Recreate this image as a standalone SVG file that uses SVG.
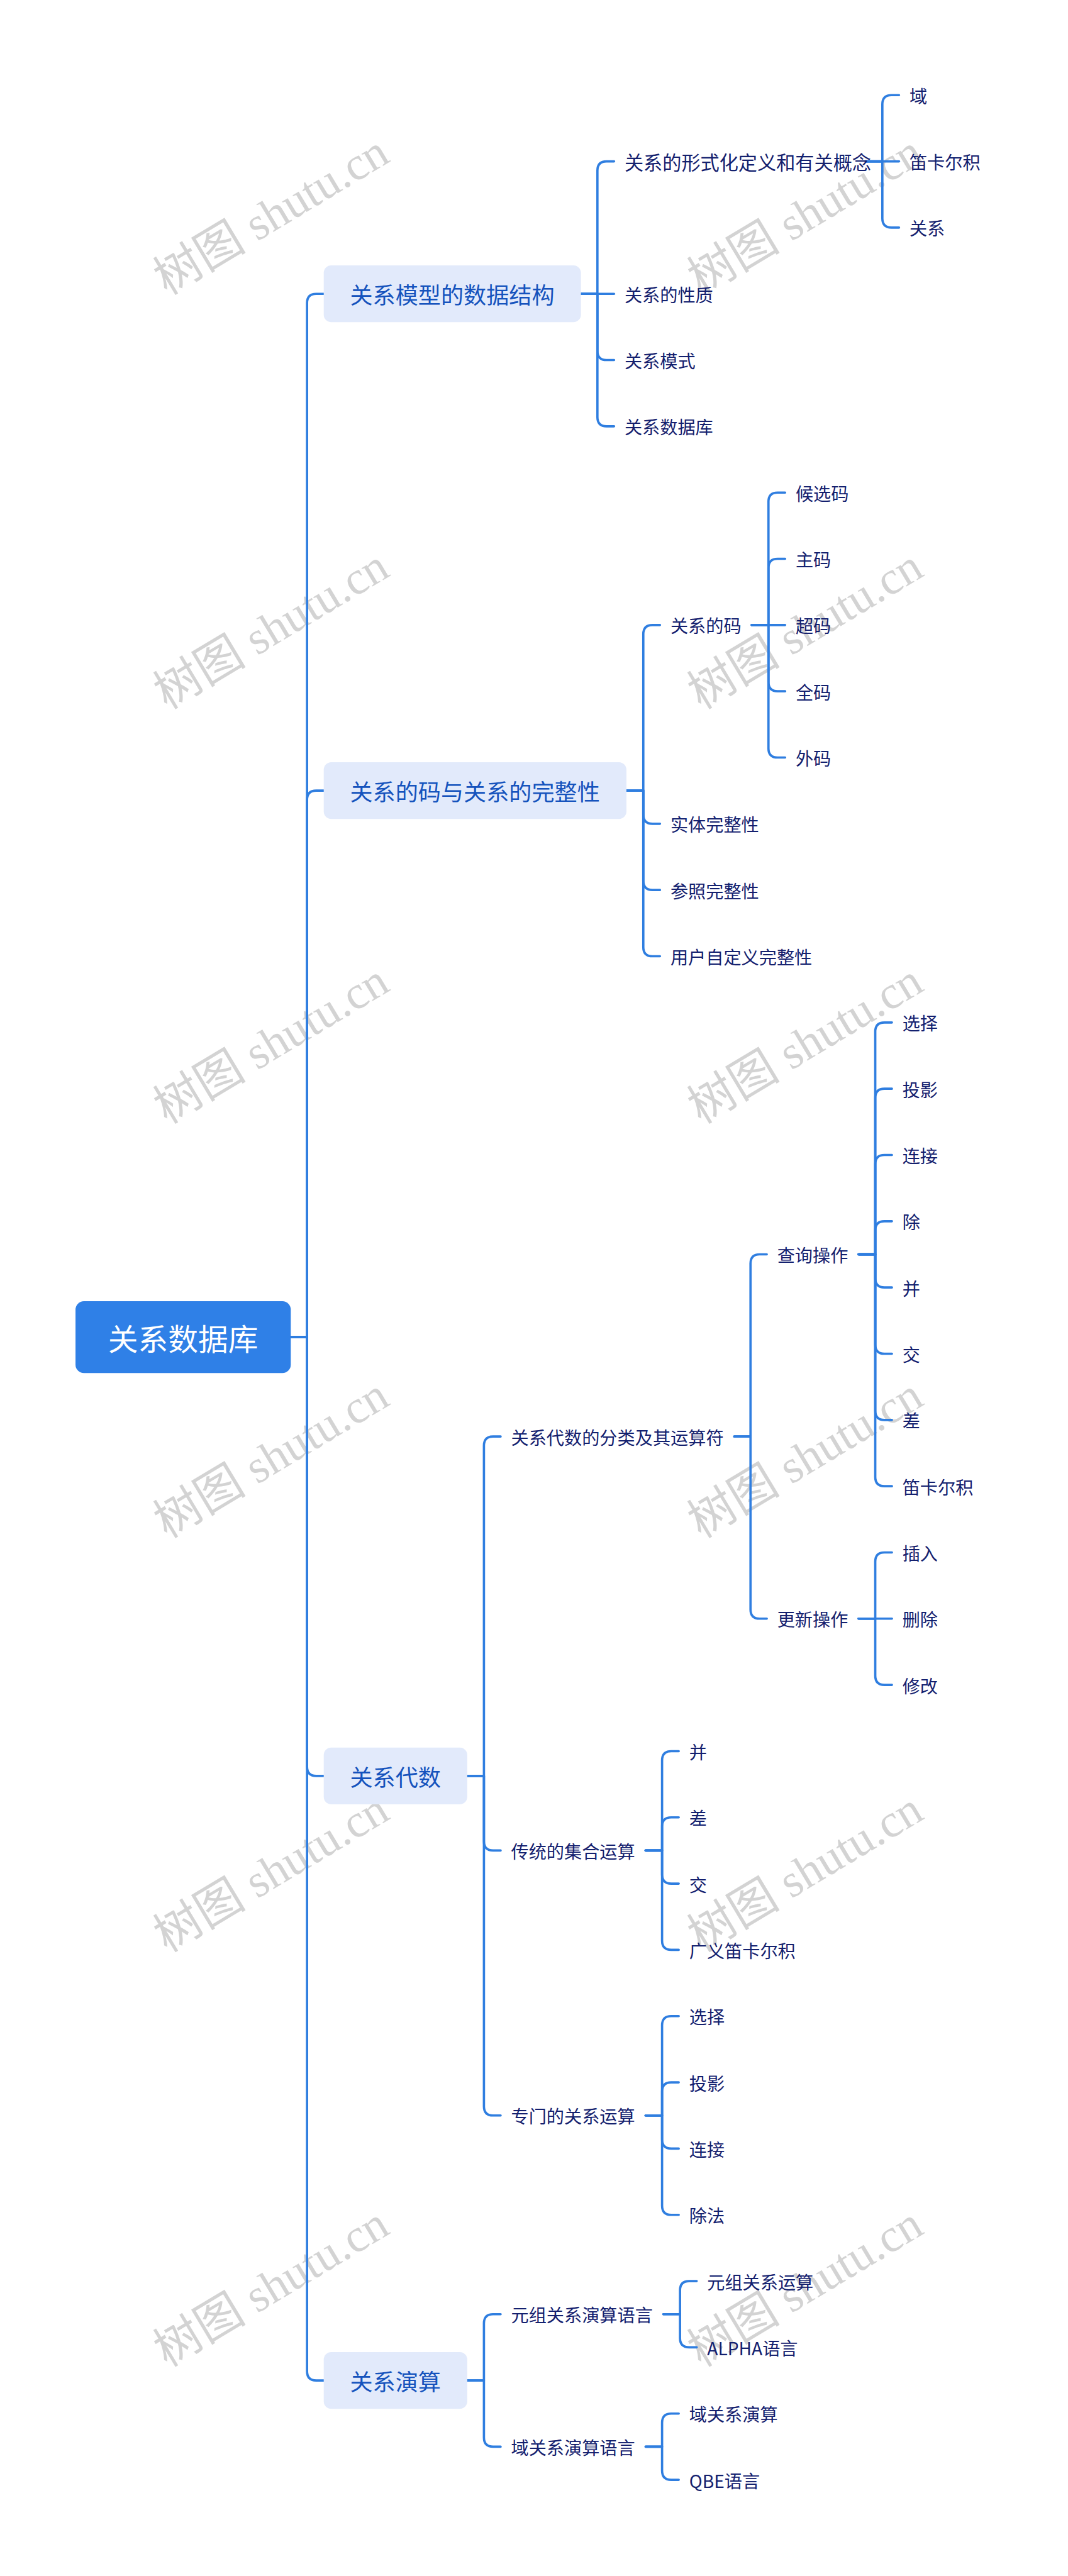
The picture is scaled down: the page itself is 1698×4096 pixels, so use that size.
<svg xmlns="http://www.w3.org/2000/svg" width="1698" height="4096" viewBox="0 0 1698 4096">
<style>
.wm{font-family:"Liberation Serif","Noto Sans CJK SC",serif;font-size:112px;fill:#d3d3d3;text-anchor:middle;dominant-baseline:central}
.c{fill:none;stroke:#2f7ee0;stroke-width:5.5;stroke-linecap:round;stroke-linejoin:round}
.root rect{fill:#2f80e7}
.root text{font-family:"Noto Sans CJK SC","Noto Sans",sans-serif;font-size:72px;fill:#ffffff;text-anchor:middle;dominant-baseline:central}
.l1 rect{fill:#e2eafb}
.l1 text{font-family:"Noto Sans CJK SC","Noto Sans",sans-serif;font-size:54.5px;fill:#1553bd;dominant-baseline:central}
.n text{font-family:"Noto Sans CJK SC","Noto Sans",sans-serif;font-size:42.5px;fill:#13206e;dominant-baseline:central}
</style>
<rect width="1698" height="4096" fill="#ffffff"/>
<g transform="scale(0.66328)">
<g id="watermarks">
<text class="wm" transform="translate(650,515) rotate(-31)">树图 shutu.cn</text>
<text class="wm" transform="translate(1930,515) rotate(-31)">树图 shutu.cn</text>
<text class="wm" transform="translate(650,1508) rotate(-31)">树图 shutu.cn</text>
<text class="wm" transform="translate(1930,1508) rotate(-31)">树图 shutu.cn</text>
<text class="wm" transform="translate(650,2502) rotate(-31)">树图 shutu.cn</text>
<text class="wm" transform="translate(1930,2502) rotate(-31)">树图 shutu.cn</text>
<text class="wm" transform="translate(650,3495) rotate(-31)">树图 shutu.cn</text>
<text class="wm" transform="translate(1930,3495) rotate(-31)">树图 shutu.cn</text>
<text class="wm" transform="translate(650,4488) rotate(-31)">树图 shutu.cn</text>
<text class="wm" transform="translate(1930,4488) rotate(-31)">树图 shutu.cn</text>
<text class="wm" transform="translate(650,5482) rotate(-31)">树图 shutu.cn</text>
<text class="wm" transform="translate(1930,5482) rotate(-31)">树图 shutu.cn</text>
</g>
<g id="connectors" class="c">
<path d="M697 3205.5 H736 V726.4 Q736 704.4 758 704.4 H776"/>
<path d="M697 3205.5 H736 V1917.4 Q736 1895.4 758 1895.4 H776"/>
<path d="M697 3205.5 H736 V4235.55 Q736 4257.55 758 4257.55 H776"/>
<path d="M697 3205.5 H736 V5684.6 Q736 5706.6 758 5706.6 H776"/>
<path d="M1392.5 704.4 H1432 V408.8 Q1432 386.8 1454 386.8 H1472"/>
<path d="M1392.5 704.4 H1472"/>
<path d="M1392.5 704.4 H1432 V841.2 Q1432 863.2 1454 863.2 H1472"/>
<path d="M1392.5 704.4 H1432 V1000 Q1432 1022 1454 1022 H1472"/>
<path d="M2075 386.8 H2115 V250 Q2115 228 2137 228 H2155"/>
<path d="M2075 386.8 H2155"/>
<path d="M2075 386.8 H2115 V523.6 Q2115 545.6 2137 545.6 H2155"/>
<path d="M1501.5 1895.4 H1542 V1520.4 Q1542 1498.4 1564 1498.4 H1582"/>
<path d="M1501.5 1895.4 H1542 V1952.8 Q1542 1974.8 1564 1974.8 H1582"/>
<path d="M1501.5 1895.4 H1542 V2111.6 Q1542 2133.6 1564 2133.6 H1582"/>
<path d="M1501.5 1895.4 H1542 V2270.4 Q1542 2292.4 1564 2292.4 H1582"/>
<path d="M1802 1498.4 H1842 V1202.8 Q1842 1180.8 1864 1180.8 H1882"/>
<path d="M1802 1498.4 H1842 V1361.6 Q1842 1339.6 1864 1339.6 H1882"/>
<path d="M1802 1498.4 H1882"/>
<path d="M1802 1498.4 H1842 V1635.2 Q1842 1657.2 1864 1657.2 H1882"/>
<path d="M1802 1498.4 H1842 V1794 Q1842 1816 1864 1816 H1882"/>
<path d="M1120 4257.55 H1160 V3465.7 Q1160 3443.7 1182 3443.7 H1200"/>
<path d="M1120 4257.55 H1160 V4414.2 Q1160 4436.2 1182 4436.2 H1200"/>
<path d="M1120 4257.55 H1160 V5049.4 Q1160 5071.4 1182 5071.4 H1200"/>
<path d="M1760 3443.7 H1799 V3029 Q1799 3007 1821 3007 H1838"/>
<path d="M1760 3443.7 H1799 V3858.4 Q1799 3880.4 1821 3880.4 H1838"/>
<path d="M2058 3007 H2098 V2473.2 Q2098 2451.2 2120 2451.2 H2138"/>
<path d="M2058 3007 H2098 V2632 Q2098 2610 2120 2610 H2138"/>
<path d="M2058 3007 H2098 V2790.8 Q2098 2768.8 2120 2768.8 H2138"/>
<path d="M2058 3007 H2098 V2949.6 Q2098 2927.6 2120 2927.6 H2138"/>
<path d="M2058 3007 H2098 V3064.4 Q2098 3086.4 2120 3086.4 H2138"/>
<path d="M2058 3007 H2098 V3223.2 Q2098 3245.2 2120 3245.2 H2138"/>
<path d="M2058 3007 H2098 V3382 Q2098 3404 2120 3404 H2138"/>
<path d="M2058 3007 H2098 V3540.8 Q2098 3562.8 2120 3562.8 H2138"/>
<path d="M2058 3880.4 H2098 V3743.6 Q2098 3721.6 2120 3721.6 H2138"/>
<path d="M2058 3880.4 H2138"/>
<path d="M2058 3880.4 H2098 V4017.2 Q2098 4039.2 2120 4039.2 H2138"/>
<path d="M1547.5 4436.2 H1587 V4220 Q1587 4198 1609 4198 H1627"/>
<path d="M1547.5 4436.2 H1587 V4378.8 Q1587 4356.8 1609 4356.8 H1627"/>
<path d="M1547.5 4436.2 H1587 V4493.6 Q1587 4515.6 1609 4515.6 H1627"/>
<path d="M1547.5 4436.2 H1587 V4652.4 Q1587 4674.4 1609 4674.4 H1627"/>
<path d="M1547.5 5071.4 H1587 V4855.2 Q1587 4833.2 1609 4833.2 H1627"/>
<path d="M1547.5 5071.4 H1587 V5014 Q1587 4992 1609 4992 H1627"/>
<path d="M1547.5 5071.4 H1587 V5128.8 Q1587 5150.8 1609 5150.8 H1627"/>
<path d="M1547.5 5071.4 H1587 V5287.6 Q1587 5309.6 1609 5309.6 H1627"/>
<path d="M1120 5706.6 H1160 V5569.8 Q1160 5547.8 1182 5547.8 H1200"/>
<path d="M1120 5706.6 H1160 V5843.4 Q1160 5865.4 1182 5865.4 H1200"/>
<path d="M1590 5547.8 H1630 V5490.4 Q1630 5468.4 1652 5468.4 H1670"/>
<path d="M1590 5547.8 H1630 V5605.2 Q1630 5627.2 1652 5627.2 H1670"/>
<path d="M1547.5 5865.4 H1587 V5808 Q1587 5786 1609 5786 H1627"/>
<path d="M1547.5 5865.4 H1587 V5922.8 Q1587 5944.8 1609 5944.8 H1627"/>
</g>
<g id="root" class="root"><rect x="181" y="3119.5" width="516" height="172" rx="20"/><text x="439" y="3205.5">关系数据库</text></g>
<g id="b1" class="l1"><rect x="776" y="636.4" width="616.5" height="136" rx="18"/><text x="839" y="704.4">关系模型的数据结构</text></g>
<g id="b2" class="l1"><rect x="776" y="1827.4" width="725.5" height="136" rx="18"/><text x="839" y="1895.4">关系的码与关系的完整性</text></g>
<g id="b3" class="l1"><rect x="776" y="4189.55" width="344" height="136" rx="18"/><text x="839" y="4257.55">关系代数</text></g>
<g id="b4" class="l1"><rect x="776" y="5638.6" width="344" height="136" rx="18"/><text x="839" y="5706.6">关系演算</text></g>
<g id="n1" class="n"><text x="1497" y="386.8" style="font-size:45.5px">关系的形式化定义和有关概念</text></g>
<g id="n1a" class="n"><text x="2180" y="228">域</text></g>
<g id="n1b" class="n"><text x="2180" y="386.8">笛卡尔积</text></g>
<g id="n1c" class="n"><text x="2180" y="545.6">关系</text></g>
<g id="n2" class="n"><text x="1497" y="704.4">关系的性质</text></g>
<g id="n3" class="n"><text x="1497" y="863.2">关系模式</text></g>
<g id="n4" class="n"><text x="1497" y="1022">关系数据库</text></g>
<g id="n5" class="n"><text x="1607" y="1498.4">关系的码</text></g>
<g id="n5a" class="n"><text x="1907" y="1180.8">候选码</text></g>
<g id="n5b" class="n"><text x="1907" y="1339.6">主码</text></g>
<g id="n5c" class="n"><text x="1907" y="1498.4">超码</text></g>
<g id="n5d" class="n"><text x="1907" y="1657.2">全码</text></g>
<g id="n5e" class="n"><text x="1907" y="1816">外码</text></g>
<g id="n6" class="n"><text x="1607" y="1974.8">实体完整性</text></g>
<g id="n7" class="n"><text x="1607" y="2133.6">参照完整性</text></g>
<g id="n8" class="n"><text x="1607" y="2292.4">用户自定义完整性</text></g>
<g id="n9" class="n"><text x="1225" y="3443.7">关系代数的分类及其运算符</text></g>
<g id="n10" class="n"><text x="1863" y="3007">查询操作</text></g>
<g id="n10a" class="n"><text x="2163" y="2451.2">选择</text></g>
<g id="n10b" class="n"><text x="2163" y="2610">投影</text></g>
<g id="n10c" class="n"><text x="2163" y="2768.8">连接</text></g>
<g id="n10d" class="n"><text x="2163" y="2927.6">除</text></g>
<g id="n10e" class="n"><text x="2163" y="3086.4">并</text></g>
<g id="n10f" class="n"><text x="2163" y="3245.2">交</text></g>
<g id="n10g" class="n"><text x="2163" y="3404">差</text></g>
<g id="n10h" class="n"><text x="2163" y="3562.8">笛卡尔积</text></g>
<g id="n11" class="n"><text x="1863" y="3880.4">更新操作</text></g>
<g id="n11a" class="n"><text x="2163" y="3721.6">插入</text></g>
<g id="n11b" class="n"><text x="2163" y="3880.4">删除</text></g>
<g id="n11c" class="n"><text x="2163" y="4039.2">修改</text></g>
<g id="n12" class="n"><text x="1225" y="4436.2">传统的集合运算</text></g>
<g id="n12a" class="n"><text x="1652" y="4198">并</text></g>
<g id="n12b" class="n"><text x="1652" y="4356.8">差</text></g>
<g id="n12c" class="n"><text x="1652" y="4515.6">交</text></g>
<g id="n12d" class="n"><text x="1652" y="4674.4">广义笛卡尔积</text></g>
<g id="n13" class="n"><text x="1225" y="5071.4">专门的关系运算</text></g>
<g id="n13a" class="n"><text x="1652" y="4833.2">选择</text></g>
<g id="n13b" class="n"><text x="1652" y="4992">投影</text></g>
<g id="n13c" class="n"><text x="1652" y="5150.8">连接</text></g>
<g id="n13d" class="n"><text x="1652" y="5309.6">除法</text></g>
<g id="n14" class="n"><text x="1225" y="5547.8">元组关系演算语言</text></g>
<g id="n14a" class="n"><text x="1695" y="5468.4">元组关系运算</text></g>
<g id="n14b" class="n"><text x="1695" y="5627.2">ALPHA语言</text></g>
<g id="n15" class="n"><text x="1225" y="5865.4">域关系演算语言</text></g>
<g id="n15a" class="n"><text x="1652" y="5786">域关系演算</text></g>
<g id="n15b" class="n"><text x="1652" y="5944.8">QBE语言</text></g>
</g>
</svg>
